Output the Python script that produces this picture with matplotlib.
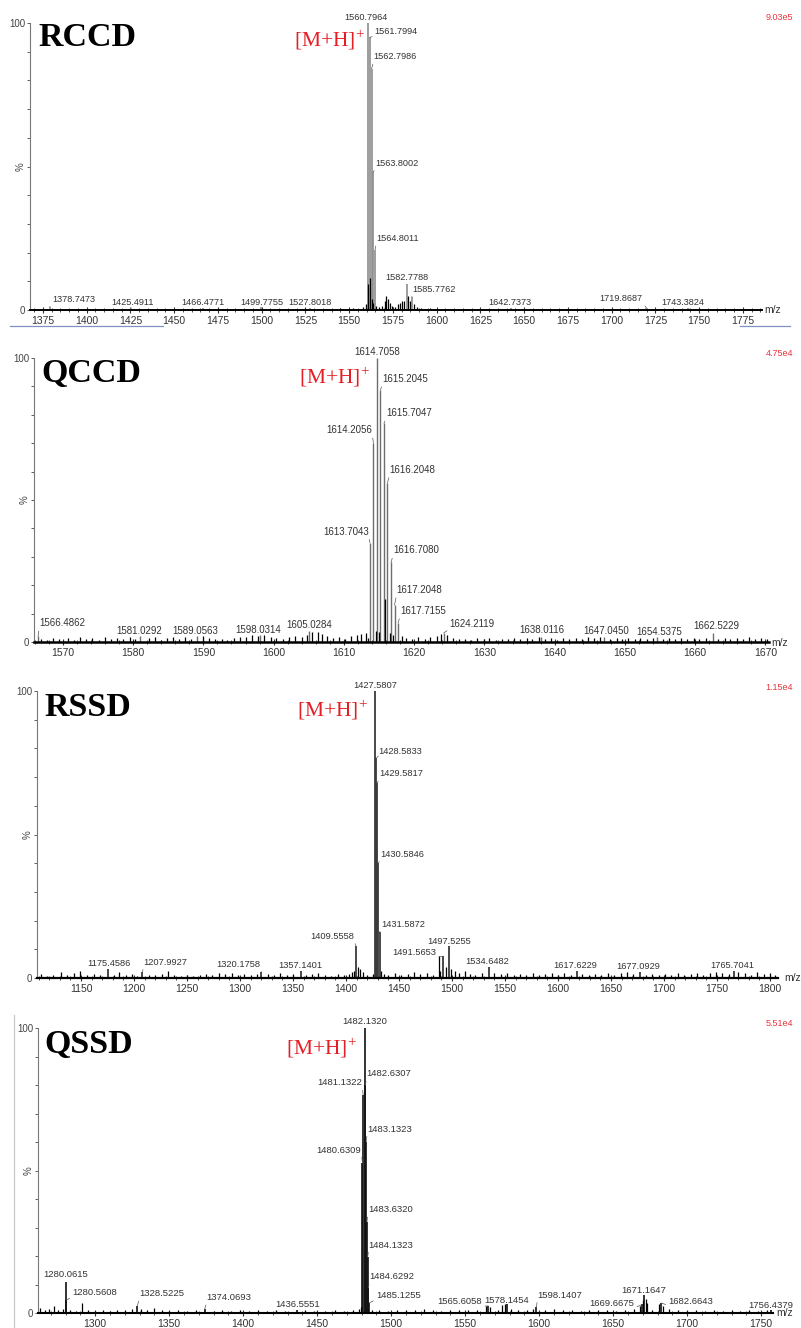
import matplotlib
matplotlib.use('Agg')
import matplotlib.pyplot as plt
from matplotlib.lines import Line2D

plt.rcParams['font.family'] = ['Liberation Sans', 'DejaVu Sans']
plt.rcParams['mathtext.fontset'] = 'custom'
plt.rcParams['mathtext.rm'] = 'Liberation Serif'

W, H = 801, 1328

# ---- RCCD ----
rccd_mz = [1560.7964, 1561.7994, 1562.7986, 1563.8002, 1564.8011, 1582.7788, 1585.7762,
           1378.7473, 1425.4911, 1466.4771, 1499.7755, 1527.8018, 1642.7373, 1719.8687, 1743.3824]
rccd_int = [100, 95, 84, 48, 21, 9, 4.5, 1.0, 0.8, 0.8, 1.0, 0.8, 0.8, 0.8, 0.8]
rccd_noise_mz = [1370, 1385, 1392, 1405, 1412, 1433, 1441, 1455, 1478, 1488, 1510, 1518, 1536, 1545,
                 1552, 1558, 1559.8, 1560.8, 1561.8, 1562.8, 1563.8, 1565.5, 1567, 1569, 1570.5,
                 1571.3, 1572.2, 1573.1, 1574.5, 1576, 1577.8, 1579, 1580.3, 1581.2, 1583.8, 1584.6,
                 1586.8, 1588.5, 1591, 1596, 1605, 1615, 1628, 1650, 1665, 1680, 1697, 1710, 1730,
                 1755, 1768, 1780]
rccd_noise_int = [0.4, 0.5, 0.4, 0.5, 0.4, 0.4, 0.5, 0.4, 0.5, 0.4, 0.5, 0.4, 0.5, 0.6,
                  0.8, 1.0, 2.0, 9.0, 11.0, 4.0, 2.5, 1.5, 1.2, 1.5, 3.0,
                  5.0, 4.0, 2.5, 1.5, 1.2, 2.0, 2.5, 3.0, 3.2, 5.0, 3.0,
                  2.0, 1.2, 0.8, 0.6, 0.5, 0.4, 0.5, 0.4, 0.5, 0.4, 0.5, 0.4, 0.5,
                  0.4, 0.5, 0.4]
rccd_ticks = [1375, 1400, 1425, 1450, 1475, 1500, 1525, 1550, 1575, 1600, 1625, 1650, 1675,
              1700, 1725, 1750, 1775]

# ---- QCCD ----
qccd_mz = [1614.7058, 1615.2045, 1615.7047, 1616.2048, 1616.7080, 1617.2048, 1617.7155,
           1614.2056, 1613.7043, 1566.4862, 1581.0292, 1589.0563, 1598.0314, 1605.0284,
           1624.2119, 1638.0116, 1647.0450, 1654.5375, 1662.5229]
qccd_int = [100, 88.7, 77, 56, 28, 13, 6.7, 70, 35, 2.0, 2.0, 2.2, 2.5, 3.8, 3.2, 1.8, 1.9, 1.8, 3.0]
qccd_noise_mz = [1566.9, 1567.8, 1568.6, 1569.5, 1570.7, 1571.6, 1572.4, 1573.3, 1574.2, 1575.1,
                 1576.0, 1576.9, 1577.7, 1578.6, 1579.5, 1580.3, 1582.2, 1583.1, 1584.0, 1584.8,
                 1585.7, 1586.6, 1587.4, 1588.3, 1589.9, 1590.8, 1591.7, 1592.6, 1593.4, 1594.3,
                 1595.2, 1596.0, 1596.9, 1597.8, 1598.7, 1599.6, 1600.4, 1601.3, 1602.2, 1603.1,
                 1604.0, 1604.8, 1605.5, 1606.3, 1606.9, 1607.6, 1608.5, 1609.3, 1610.2, 1611.0,
                 1611.8, 1612.5, 1613.2, 1613.5, 1614.5, 1615.0, 1615.8, 1616.5, 1617.0, 1618.2,
                 1618.9, 1619.7, 1620.6, 1621.5, 1622.3, 1623.2, 1623.8, 1624.7, 1625.6, 1626.4,
                 1627.3, 1628.1, 1629.0, 1629.9, 1630.7, 1631.6, 1632.5, 1633.3, 1634.2, 1635.1,
                 1636.0, 1636.8, 1637.7, 1638.6, 1639.5, 1640.4, 1641.2, 1642.1, 1643.0, 1643.9,
                 1644.7, 1645.6, 1646.5, 1647.9, 1648.8, 1649.6, 1650.5, 1651.4, 1652.2, 1653.1,
                 1654.0, 1655.4, 1656.3, 1657.1, 1658.0, 1658.9, 1659.8, 1660.6, 1661.5, 1663.3,
                 1664.2, 1665.0, 1665.9, 1666.8, 1667.7, 1668.5, 1669.4, 1670.2]
qccd_noise_int = [1.2, 0.8, 1.5, 0.9, 1.3, 0.7, 1.6, 1.0, 1.4, 0.8,
                  1.8, 1.1, 1.5, 0.9, 1.7, 1.2, 1.3, 1.9, 0.8, 1.4,
                  1.6, 1.0, 1.8, 1.2, 2.0, 1.5, 0.9, 1.2, 0.7, 1.4,
                  1.9, 1.6, 2.4, 2.1, 2.6, 1.8, 1.5, 1.2, 1.8, 2.2,
                  1.9, 2.6, 3.5, 3.4, 2.8, 2.0, 1.4, 1.7, 1.2, 2.0,
                  2.4, 2.8, 3.0, 1.5, 4.0, 3.5, 15.0, 3.0, 2.5, 2.2,
                  1.5, 1.2, 1.6, 1.0, 1.8, 2.2, 2.8, 2.5, 1.4, 0.9,
                  1.2, 0.8, 1.5, 1.0, 1.3, 0.7, 1.2, 0.9, 1.5, 1.1,
                  1.4, 1.0, 1.6, 1.1, 1.3, 0.8, 1.4, 1.0, 1.5, 1.2,
                  1.7, 1.3, 1.6, 1.2, 1.5, 0.9, 1.3, 1.0, 1.4, 1.1,
                  1.5, 1.2, 1.4, 0.9, 1.3, 1.0, 1.4, 1.1, 1.5, 1.2,
                  1.4, 1.0, 1.5, 1.2, 1.6, 1.1, 1.3, 0.9]
qccd_ticks = [1570, 1580, 1590, 1600, 1610, 1620, 1630, 1640, 1650, 1660, 1670]

# ---- RSSD ----
rssd_mz = [1427.5807, 1428.5833, 1429.5817, 1430.5846, 1431.5872, 1409.5558, 1491.5653,
           1497.5255, 1534.6482, 1175.4586, 1207.9927, 1320.1758, 1357.1401, 1617.6229,
           1677.0929, 1765.7041]
rssd_int = [100, 76.5, 68, 40, 16, 11, 7.5, 11, 4.0, 3.2, 2.0, 2.0, 2.5, 2.5, 2.2, 2.5]
rssd_noise_mz = [1112, 1118, 1124, 1131, 1137, 1143, 1149, 1156, 1162, 1168, 1181, 1186, 1192,
                 1198, 1203, 1214, 1220, 1226, 1232, 1238, 1244, 1250, 1256, 1262, 1268, 1274,
                 1280, 1286, 1292, 1298, 1304, 1310, 1316, 1326, 1332, 1338, 1344, 1350, 1362,
                 1368, 1374, 1380, 1386, 1392, 1398, 1403, 1406, 1408, 1411, 1413, 1416, 1420,
                 1425, 1433, 1436, 1440, 1446, 1452, 1458, 1464, 1470, 1476, 1482, 1487.5, 1489,
                 1494, 1499, 1503, 1507, 1512, 1517, 1522, 1528, 1540, 1546, 1552, 1558, 1564,
                 1570, 1576, 1582, 1588, 1594, 1600, 1606, 1612, 1623, 1629, 1635, 1641, 1647,
                 1653, 1659, 1665, 1671, 1683, 1689, 1695, 1701, 1707, 1713, 1719, 1725, 1731,
                 1737, 1743, 1749, 1755, 1761, 1770, 1776, 1782, 1788, 1794, 1800, 1805]
rssd_noise_int = [1.5, 0.8, 1.2, 2.0, 1.0, 1.6, 2.4, 1.1, 1.4, 0.9, 1.2, 2.2, 1.0,
                  1.5, 0.8, 1.2, 0.9, 1.4, 2.6, 1.0, 0.8, 1.2, 0.7, 1.1, 1.5, 1.0,
                  1.8, 1.3, 1.6, 1.1, 1.4, 0.9, 1.5, 1.4, 1.0, 1.6, 1.1, 1.3, 1.0,
                  1.5, 1.8, 1.1, 0.8, 1.4, 1.0, 1.5, 2.0, 2.5, 4.0, 3.0, 2.0, 1.2,
                  1.5, 2.5, 1.5, 1.2, 1.8, 1.0, 1.4, 2.0, 1.3, 1.8, 1.2, 7.5, 2.5,
                  4.0, 3.0, 2.4, 1.8, 2.6, 1.5, 1.2, 1.8, 1.6, 1.3, 1.9, 1.0, 1.5,
                  1.2, 1.7, 1.1, 1.4, 1.6, 1.2, 1.8, 1.0, 1.4, 1.0, 1.5, 0.9, 1.6,
                  1.2, 1.8, 2.0, 1.3, 1.1, 1.5, 1.0, 1.4, 1.2, 1.7, 1.1, 1.5, 1.9,
                  1.2, 1.6, 2.0, 1.8, 1.4, 2.0, 1.6, 1.2, 2.2, 1.5, 1.8, 1.0]
rssd_ticks = [1150, 1200, 1250, 1300, 1350, 1400, 1450, 1500, 1550, 1600, 1650, 1700, 1750, 1800]

# ---- QSSD ----
qssd_mz = [1482.1320, 1482.6307, 1481.1322, 1483.1323, 1480.6309, 1483.6320, 1484.1323,
           1484.6292, 1485.1255, 1280.0615, 1280.5608, 1328.5225, 1374.0693, 1436.5551,
           1565.6058, 1578.1454, 1598.1407, 1669.6675, 1671.1647, 1682.6643, 1756.4379]
qssd_int = [100, 80, 76.5, 60, 52.6, 32, 19.6, 8.8, 3.5, 10.9, 4.5, 2.5, 1.5, 1.0,
            2.5, 3.0, 2.0, 3.0, 6.3, 3.5, 1.0]
qssd_noise_mz = [1263, 1266, 1269, 1272, 1275, 1278, 1283, 1287, 1290.8, 1295, 1300, 1305, 1310,
                 1315, 1320, 1325, 1331, 1335, 1340, 1345, 1350, 1356, 1362, 1368, 1380, 1386,
                 1392, 1398, 1404, 1410, 1416, 1422, 1428, 1442, 1448, 1455, 1462, 1468, 1474,
                 1478, 1479.6, 1487, 1492, 1498, 1504, 1510, 1516, 1522, 1528, 1534, 1540, 1546,
                 1552, 1558, 1564, 1567, 1572, 1575, 1577, 1581, 1586, 1592, 1596, 1604, 1610,
                 1616, 1622, 1628, 1634, 1640, 1646, 1652, 1658, 1664, 1668, 1670, 1672, 1673,
                 1676, 1681, 1684, 1688, 1694, 1700, 1706, 1712, 1718, 1724, 1730, 1736, 1742,
                 1748, 1754]
qssd_noise_int = [1.8, 1.2, 1.5, 2.4, 1.0, 1.5, 1.2, 0.8, 3.5, 1.0, 0.8, 1.1, 0.7,
                  0.9, 1.0, 1.3, 1.5, 1.0, 1.6, 0.9, 0.7, 1.0, 0.8, 1.1, 0.8, 1.0,
                  0.7, 0.9, 0.8, 1.0, 0.7, 0.9, 0.8, 0.9, 0.7, 0.8, 0.9, 0.7, 1.0,
                  1.4, 2.0, 1.2, 1.0, 0.8, 1.0, 0.9, 1.2, 1.5, 1.0, 0.8, 1.1, 0.9,
                  1.2, 1.0, 2.5, 2.0, 1.2, 2.8, 3.0, 1.5, 1.0, 1.2, 1.5, 1.0, 1.4,
                  0.9, 1.1, 0.8, 1.0, 0.9, 1.2, 0.8, 1.0, 1.3, 2.5, 4.5, 5.0, 3.5,
                  1.2, 3.0, 2.5, 1.5, 1.0, 0.8, 1.0, 0.7, 0.9, 0.8, 1.0, 0.7, 0.9,
                  0.8, 1.0]
qssd_ticks = [1300, 1350, 1400, 1450, 1500, 1550, 1600, 1650, 1700, 1750]

# label placement: (dx, dy) in pixels from the peak top, alignment, leader line
rccd_tags = [(-2, 6, 'center', False), (5, 6, 'left', True), (2, 12, 'left', True),
             (2, 9, 'left', True), (1, 11, 'left', True), (0, 7, 'center', False),
             (1, 8, 'left', True), (3, 8, 'left', True), (1, 5, 'center', False),
             (0, 5, 'center', False), (1, 5, 'center', False), (0, 5, 'center', False),
             (-2, 5, 'center', False), (-4, 9, 'right', True), (-5, 5, 'center', False)]
qccd_tags = [(0, 6, 'center', False), (2, 11, 'left', True), (2, 10, 'left', True),
             (2, 13, 'left', True), (2, 12, 'left', True), (2, 15, 'left', True),
             (2, 12, 'left', True), (-1, 13, 'right', True), (-1, 11, 'right', True),
             (1, 13, 'left', True), (-1, 5, 'center', False), (-1, 5, 'center', False),
             (-2, 5, 'center', False), (0, 6, 'center', False), (6, 9, 'left', True),
             (1, 7, 'center', False), (2, 6, 'center', False), (2, 5, 'center', False),
             (3, 7, 'center', False)]
rssd_tags = [(0, 6, 'center', False), (2, 7, 'left', True), (2, 9, 'left', True),
             (2, 9, 'left', True), (2, 8, 'left', True), (-2, 10, 'right', True),
             (-7, 4, 'right', True), (0, 5, 'center', False), (-2, 5, 'center', False),
             (1, 5, 'center', False), (1, 10, 'left', True), (-1, 8, 'right', True),
             (0, 5, 'center', False), (-2, 5, 'center', False), (-2, 5, 'center', False),
             (-1, 5, 'center', False)]
qssd_tags = [(0, 6, 'center', False), (1, 11, 'left', True), (-1, 12, 'right', True),
             (1, 13, 'left', True), (-1, 13, 'right', True), (1, 12, 'left', True),
             (1, 12, 'left', True), (1, 11, 'left', True), (7, 8, 'left', True),
             (0, 7, 'center', False), (6, 8, 'left', True), (2, 12, 'left', True),
             (2, 11, 'left', True), (0, 6, 'center', False), (-6, 4, 'right', True),
             (0, 4, 'center', False), (1, 12, 'left', True), (-8, 1, 'right', True),
             (-1, 5, 'center', False), (7, 2, 'left', True), (0, 5, 'center', False)]

fig = plt.figure(figsize=(W / 100, H / 100), dpi=100)


def ftext(x, y, s, **kw):
    return fig.text(x / W, 1 - y / H, s, **kw)


def spectrum(box, xlim, ticks, minor_step, mz, inten, tags, noise_mz, noise_int,
             peak_color, peak_lw, label_size, base_lw, name, name_xy, ion_xy,
             scale, scale_y, mz_xy):
    x0, x1, ytop, ybase = box
    ax = fig.add_axes([x0 / W, 1 - ybase / H, (x1 - x0) / W, (ybase - ytop) / H])
    ax.set_xlim(*xlim)
    ax.set_ylim(0, 100)
    ax.patch.set_alpha(0)

    ax.vlines(mz, 0, inten, colors=peak_color, lw=peak_lw)
    ax.vlines(noise_mz, 0, noise_int, colors='black', lw=0.9)

    for m, i, (dx, dy, ha, lead) in zip(mz, inten, tags):
        kw = {}
        if lead:
            rel = {'left': (0, 0), 'right': (1, 0), 'center': (0.5, 0)}[ha]
            kw['arrowprops'] = dict(arrowstyle='-', lw=0.5, color='#555555',
                                    shrinkA=0, shrinkB=0, relpos=rel)
        ax.annotate(f'{m:.4f}', (m, i), xytext=(dx, dy), textcoords='offset pixels',
                    ha=ha, va='center', fontsize=label_size, color='#333333',
                    annotation_clip=False, **kw)

    for s in ['top', 'right']:
        ax.spines[s].set_visible(False)
    ax.spines['bottom'].set_color('black')
    ax.spines['bottom'].set_linewidth(base_lw)
    ax.spines['left'].set_color('#777777')
    ax.spines['left'].set_linewidth(0.8)

    ax.set_xticks(ticks)
    ax.set_xticklabels([str(t) for t in ticks])
    lo = int(xlim[0] // minor_step + 1) * minor_step
    ax.set_xticks([v for v in range(int(lo), int(xlim[1]) + 1, minor_step) if v not in ticks],
                  minor=True)
    ax.tick_params(axis='x', which='major', direction='inout', length=5, width=0.8,
                   labelsize=7.5, pad=2, colors='#333333')
    ax.tick_params(axis='x', which='minor', direction='inout', length=3, width=0.6,
                   color='#333333')

    ax.set_yticks(range(0, 101, 10))
    ax.set_yticklabels(['0'] + [''] * 9 + ['100'])
    ax.tick_params(axis='y', direction='out', length=2.5, width=0.6, labelsize=7,
                   pad=1, colors='#444444')

    ftext(x0 - 9, (ytop + ybase) / 2, '%', rotation=90, fontsize=7, color='#444444',
          ha='center', va='center')
    ftext(name_xy[0], name_xy[1], name, fontsize=24.5, fontweight='bold',
          family='Liberation Serif', ha='left', va='center')
    ftext(ion_xy[0], ion_xy[1], r'[M+H]$^{+}$', fontsize=15.5, color='#e31e24',
          family='Liberation Serif', ha='center', va='center')
    ftext(793, scale_y, scale, fontsize=6.5, color='#e8353b', ha='right', va='center')
    ftext(mz_xy[0], mz_xy[1], 'm/z', fontsize=7.5, color='#333333', ha='left', va='center')
    return ax


spectrum((30, 762, 23, 310), (1367.6, 1785.9), rccd_ticks, 5, rccd_mz, rccd_int, rccd_tags,
         rccd_noise_mz, rccd_noise_int, '#8c8c8c', 1.2, 6.6, 1.4, 'RCCD', (38, 38), (330, 40),
         '9.03e5', 18, (764, 310))
spectrum((34, 769, 358, 642), (1565.9, 1670.5), qccd_ticks, 2, qccd_mz, qccd_int, qccd_tags,
         qccd_noise_mz, qccd_noise_int, '#6e6e6e', 1.0, 7.0, 1.8, 'QCCD', (41, 374), (335, 377),
         '4.75e4', 353, (771, 643))
spectrum((37, 778, 691, 978), (1108.5, 1807.5), rssd_ticks, 10, rssd_mz, rssd_int, rssd_tags,
         rssd_noise_mz, rssd_noise_int, '#3a3a3a', 1.3, 6.7, 1.6, 'RSSD', (44, 707), (333, 710),
         '1.15e4', 687, (784, 978))
spectrum((38, 773, 1028, 1313), (1261.4, 1758.0), qssd_ticks, 10, qssd_mz, qssd_int, qssd_tags,
         qssd_noise_mz, qssd_noise_int, '#111111', 1.2, 6.8, 1.5, 'QSSD', (44, 1044), (322, 1048),
         '5.51e4', 1023, (776, 1313))

# separator remnants around the first panel and the left edge of the last one
for xs, ys, c in [((10, 163), (326, 326), '#8090c4'), ((740, 790), (326, 326), '#8090c4'),
                  ((14, 14), (1015, 1328), '#c8c8c8')]:
    fig.add_artist(Line2D([x / W for x in xs], [1 - y / H for y in ys], color=c, lw=0.9))

fig.savefig('out.png', dpi=100)
